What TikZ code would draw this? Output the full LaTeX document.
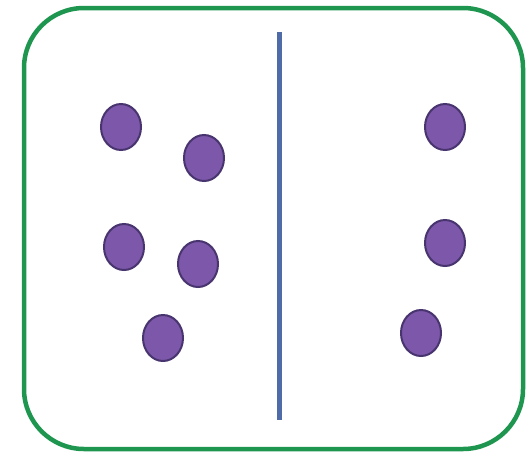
\documentclass[tikz,border=0pt]{standalone}
\usepackage{tikz}
\usetikzlibrary{shapes.geometric}
\usepackage{xcolor}
\definecolor{boxgreen}{RGB}{30,150,80}
\definecolor{wallblue}{RGB}{80,108,168}
\definecolor{dotfill}{RGB}{125,88,170}
\definecolor{dotedge}{RGB}{72,52,110}

\begin{document}
\begin{tikzpicture}[
    x=1pt, y=-1pt,
    box/.style={draw=boxgreen, line width=4.5pt, rounded corners=60pt},
    wall/.style={draw=wallblue, line width=5pt},
    dot/.style={ellipse, draw=dotedge, fill=dotfill, line width=2pt, minimum width=40pt, minimum height=46pt, inner sep=0pt}
]
    \useasboundingbox (0,0) rectangle (526,455);

    % Container
    \draw[box] (24,8) rectangle (523,449);

    % Partition
    \coordinate (wtop) at (279,32);
    \coordinate (wbot) at (279,420);
    \draw[wall] (wtop) -- (wbot);

    % Left side: particles
    \node[dot] (l1) at (121,127) {};
    \node[dot] (l2) at (204,158) {};
    \node[dot] (l3) at (124,247) {};
    \node[dot] (l4) at (198,264) {};
    \node[dot] (l5) at (163,338) {};

    % Right side: particles
    \node[dot] (r1) at (445,127) {};
    \node[dot] (r2) at (445,243) {};
    \node[dot] (r3) at (421,333) {};
\end{tikzpicture}
\end{document}
